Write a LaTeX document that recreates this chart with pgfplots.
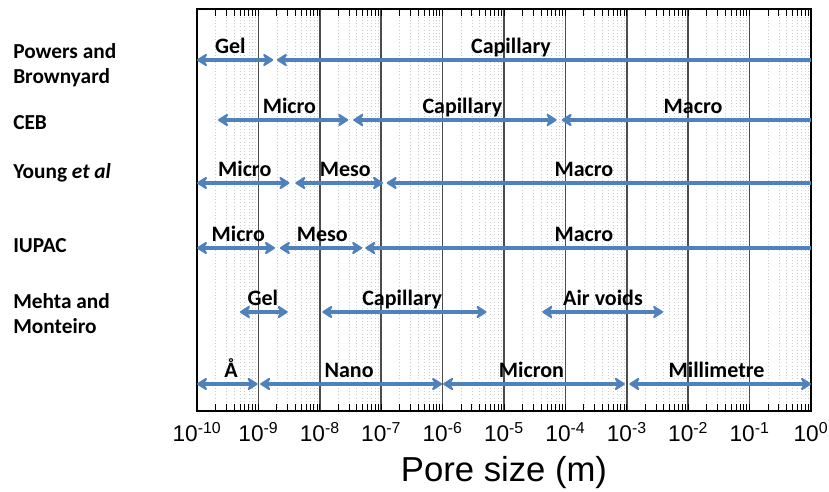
\documentclass[border=0pt]{standalone}
\usepackage{pgfplots}
\pgfplotsset{compat=1.18}
\usetikzlibrary{arrows.meta}
\usepackage{fontspec}
\setmainfont{Carlito}
\newfontfamily\arial{Liberation Sans}
\definecolor{arrblue}{RGB}{79,129,189}
\newcommand{\tl}[1]{10\textsuperscript{#1}}
\begin{document}
\begin{tikzpicture}[
  arr/.style={arrblue, line width=2.3pt},
  dd/.style={{Stealth[length=9.5pt,width=12pt,inset=3.5pt,round]}-{Stealth[length=9.5pt,width=12pt,inset=3.5pt,round]}},
  dl/.style={{Stealth[length=9.5pt,width=12pt,inset=3.5pt,round]}-},
  lab/.style={anchor=base, font=\bfseries\fontsize{16.5}{19}\selectfont, inner sep=0pt},
]
\path[use as bounding box] (0,0) rectangle (621.75pt,369pt);
\begin{axis}[
  at={(147.75pt,60.75pt)}, anchor=south west,
  width=460.5pt, height=301.5pt, scale only axis,
  xmode=log, xmin=1e-10, xmax=1, ymin=0, ymax=402,
  clip=false,
  ytick=\empty,
  xtick={1e-10,1e-9,1e-8,1e-7,1e-6,1e-5,1e-4,1e-3,1e-2,1e-1,1},
  xticklabels={\tl{-10},\tl{-9},\tl{-8},\tl{-7},\tl{-6},\tl{-5},\tl{-4},\tl{-3},\tl{-2},\tl{-1},\tl{0}},
  minor xtick={2e-10,3e-10,4e-10,5e-10,6e-10,7e-10,8e-10,9e-10,
               2e-9,3e-9,4e-9,5e-9,6e-9,7e-9,8e-9,9e-9,
               2e-8,3e-8,4e-8,5e-8,6e-8,7e-8,8e-8,9e-8,
               2e-7,3e-7,4e-7,5e-7,6e-7,7e-7,8e-7,9e-7,
               2e-6,3e-6,4e-6,5e-6,6e-6,7e-6,8e-6,9e-6,
               2e-5,3e-5,4e-5,5e-5,6e-5,7e-5,8e-5,9e-5,
               2e-4,3e-4,4e-4,5e-4,6e-4,7e-4,8e-4,9e-4,
               2e-3,3e-3,4e-3,5e-3,6e-3,7e-3,8e-3,9e-3,
               2e-2,3e-2,4e-2,5e-2,6e-2,7e-2,8e-2,9e-2,
               2e-1,3e-1,4e-1,5e-1,6e-1,7e-1,8e-1,9e-1},
  xmajorgrids, xminorgrids,
  major grid style={black!70, line width=1.1pt},
  minor grid style={gray!40, dotted, line width=0.5pt},
  tick align=inside,
  major tick length=5pt, minor tick length=5pt,
  tick style={black, line width=0.6pt},
  axis line style={black, line width=1.2pt},
  xticklabel style={font=\arial\fontsize{17}{20}\selectfont, anchor=base, yshift=-23.25pt},
  xlabel={Pore size (m)},
  xlabel style={at={(axis description cs:0.5,0)}, anchor=base, yshift=-53.25pt, font=\arial\fontsize{26}{30}\selectfont},
]
% Row 1: Powers and Brownyard
\addplot[arr, no marks, dd] coordinates {(1e-10,351) (1.74e-9,351)};
\addplot[arr, no marks, dl] coordinates {(2.0e-9,351) (1,351)};
% Row 2: CEB
\addplot[arr, no marks, dd] coordinates {(2.2e-10,291) (2.9e-8,291)};
\addplot[arr, no marks, dd] coordinates {(3.5e-8,291) (7.2e-5,291)};
\addplot[arr, no marks, dl] coordinates {(8.7e-5,291) (1,291)};
% Row 3: Young et al
\addplot[arr, no marks, dd] coordinates {(1e-10,228) (3.2e-9,228)};
\addplot[arr, no marks, dd] coordinates {(4.0e-9,228) (1.07e-7,228)};
\addplot[arr, no marks, dl] coordinates {(1.23e-7,228) (1,228)};
% Row 4: IUPAC
\addplot[arr, no marks, dd] coordinates {(1e-10,163) (1.86e-9,163)};
\addplot[arr, no marks, dd] coordinates {(2.24e-9,163) (4.9e-8,163)};
\addplot[arr, no marks, dl] coordinates {(5.5e-8,163) (1,163)};
% Row 5: Mehta and Monteiro
\addplot[arr, no marks, dd] coordinates {(5.0e-10,99) (3.0e-9,99)};
\addplot[arr, no marks, dd] coordinates {(1.1e-8,99) (5.2e-6,99)};
\addplot[arr, no marks, dd] coordinates {(4.2e-5,99) (3.9e-3,99)};
% Row 6: size names
\addplot[arr, no marks, dd] coordinates {(1e-10,27) (0.97e-9,27)};
\addplot[arr, no marks, dd] coordinates {(1.07e-9,27) (0.98e-6,27)};
\addplot[arr, no marks, dd] coordinates {(1.02e-6,27) (0.93e-3,27)};
\addplot[arr, no marks, dd] coordinates {(1.1e-3,27) (1,27)};
% labels
\node[lab] at (axis cs:3.5e-10,357) {Gel};
\node[lab] at (axis cs:1.3e-5,357) {Capillary};
\node[lab] at (axis cs:3.2e-9,297) {Micro};
\node[lab] at (axis cs:2.1e-6,297) {Capillary};
\node[lab] at (axis cs:1.2e-2,297) {Macro};
\node[lab] at (axis cs:6.0e-10,234) {Micro};
\node[lab] at (axis cs:2.6e-8,234) {Meso};
\node[lab] at (axis cs:2.0e-4,234) {Macro};
\node[lab] at (axis cs:4.7e-10,169) {Micro};
\node[lab] at (axis cs:1.1e-8,169) {Meso};
\node[lab] at (axis cs:2.0e-4,169) {Macro};
\node[lab] at (axis cs:1.18e-9,105) {Gel};
\node[lab] at (axis cs:2.2e-7,105) {Capillary};
\node[lab] at (axis cs:4.1e-4,105) {Air voids};
\node[lab] at (axis cs:3.6e-10,33) {Å};
\node[lab] at (axis cs:3.0e-8,33) {Nano};
\node[lab] at (axis cs:2.8e-5,33) {Micron};
\node[lab] at (axis cs:2.9e-2,33) {Millimetre};
\end{axis}
\begin{scope}[every node/.style={anchor=base west, inner sep=0pt, font=\bfseries\fontsize{16}{19}\selectfont}]
\node at (9.75pt,324.75pt) {Powers and};
\node at (9.75pt,306pt) {Brownyard};
\node at (9.75pt,271.5pt) {CEB};
\node at (9.75pt,234.75pt) {Young \textit{et al}};
\node at (9.75pt,179.25pt) {IUPAC};
\node at (9.75pt,137.25pt) {Mehta and};
\node at (9.75pt,118.5pt) {Monteiro};
\end{scope}
\end{tikzpicture}
\end{document}
